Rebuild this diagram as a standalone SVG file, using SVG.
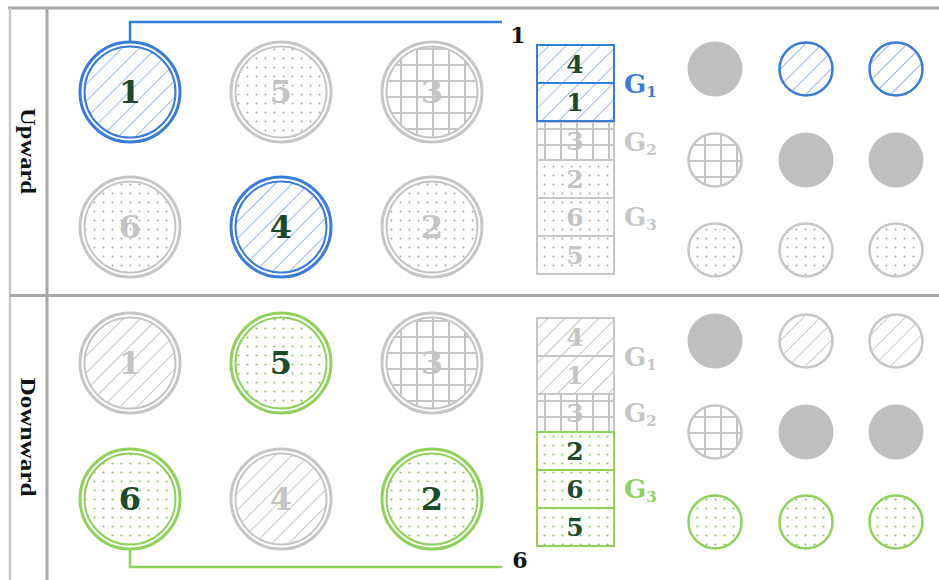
<svg xmlns="http://www.w3.org/2000/svg" width="939" height="580" viewBox="0 0 939 580">
<style>
.frame{stroke:#a8a8a8;stroke-width:3;fill:none}
.frameL{stroke:#c8c8c8;stroke-width:2.5;fill:none}
.rB{stroke:#3a7bd5}
.rG{stroke:#c6c6c6}
.rN{stroke:#8fd15c}
.nf{fill:none}
.o{stroke-width:3}
.i{stroke-width:2}
.s{stroke-width:2.5}
.bx{stroke-width:2}
.num{font-family:"DejaVu Serif","Liberation Serif",serif;font-weight:bold;text-anchor:middle}
.big{font-size:32px}
.sm{font-size:25px}
.lbl{font-size:22px}
.dk{fill:#1c4a2b}
.gy{fill:#c4c4c4}
.glab{font-family:"DejaVu Serif","Liberation Serif",serif;font-weight:bold;font-size:26px}
.sub{font-size:15px}
.side{font-family:"Liberation Serif","DejaVu Serif",serif;font-weight:bold;font-size:21px;fill:#111;text-anchor:middle}
.solid{fill:#bfbfbf}
</style>
<defs>
<pattern id="hB" width="12" height="12" patternUnits="userSpaceOnUse" patternTransform="rotate(45)"><line x1="0" y1="0" x2="0" y2="12" stroke="#8fb1e4" stroke-width="1.8"/></pattern>
<pattern id="hG" width="12" height="12" patternUnits="userSpaceOnUse" patternTransform="rotate(45)"><line x1="0" y1="0" x2="0" y2="12" stroke="#c2c2c2" stroke-width="1.8"/></pattern>
<pattern id="grid" width="16" height="16" patternUnits="userSpaceOnUse"><path d="M1 0V16M0 1H16" stroke="#c4c4c4" stroke-width="2" fill="none"/></pattern>
<pattern id="dG" width="9" height="9" patternUnits="userSpaceOnUse"><circle cx="4.5" cy="4.5" r="1" fill="#a8a8a8"/></pattern>
<pattern id="dN" width="9" height="9" patternUnits="userSpaceOnUse"><circle cx="4.5" cy="4.5" r="1.1" fill="#8cc463"/></pattern>
</defs>

<g id="frame">
<line class="frame" x1="8" y1="8" x2="939" y2="8"/>
<line class="frameL" x1="10" y1="8" x2="10" y2="580"/>
<line class="frame" x1="47" y1="8" x2="47" y2="580"/>
<line class="frame" x1="10" y1="295.5" x2="939" y2="295.5"/>
<text class="side" transform="translate(28,151) rotate(90)" y="7" textLength="86" lengthAdjust="spacingAndGlyphs">Upward</text>
<text class="side" transform="translate(28,437) rotate(90)" y="7" textLength="119" lengthAdjust="spacingAndGlyphs">Downward</text>
</g>

<g id="connectors">
<polyline points="130,41 130,22 502,22" fill="none" stroke="#2f7ed3" stroke-width="2.5"/>
<text class="num lbl" x="518" y="43" fill="#111">1</text>
<polyline points="130,550 130,567 502,567" fill="none" stroke="#8fd15c" stroke-width="2.5"/>
<text class="num lbl" x="520" y="568" fill="#111">6</text>
</g>

<!-- Upward big circles -->
<g id="up-c1"><circle cx="130" cy="92" r="45" fill="url(#hB)"/><circle class="rB o nf" cx="130" cy="92" r="50"/><circle class="rB i nf" cx="130" cy="92" r="45.5"/><text class="num big dk" x="130" y="103">1</text></g>
<g id="up-c5"><circle cx="281" cy="92" r="45" fill="url(#dG)"/><circle class="rG o nf" cx="281" cy="92" r="50"/><circle class="rG i nf" cx="281" cy="92" r="45.5"/><text class="num big gy" x="281" y="103">5</text></g>
<g id="up-c3"><circle cx="432" cy="92" r="45" fill="url(#grid)"/><circle class="rG o nf" cx="432" cy="92" r="50"/><circle class="rG i nf" cx="432" cy="92" r="45.5"/><text class="num big gy" x="432" y="103">3</text></g>
<g id="up-c6"><circle cx="130" cy="227" r="45" fill="url(#dG)"/><circle class="rG o nf" cx="130" cy="227" r="50"/><circle class="rG i nf" cx="130" cy="227" r="45.5"/><text class="num big gy" x="130" y="238">6</text></g>
<g id="up-c4"><circle cx="281" cy="227" r="45" fill="url(#hB)"/><circle class="rB o nf" cx="281" cy="227" r="50"/><circle class="rB i nf" cx="281" cy="227" r="45.5"/><text class="num big dk" x="281" y="238">4</text></g>
<g id="up-c2"><circle cx="432" cy="227" r="45" fill="url(#dG)"/><circle class="rG o nf" cx="432" cy="227" r="50"/><circle class="rG i nf" cx="432" cy="227" r="45.5"/><text class="num big gy" x="432" y="238">2</text></g>

<!-- Upward stack -->
<g id="up-stack">
<rect x="537" y="122" width="77" height="38" fill="url(#grid)" class="rG bx"/>
<rect x="537" y="160" width="77" height="38" fill="url(#dG)" class="rG bx"/>
<rect x="537" y="198" width="77" height="38" fill="url(#dG)" class="rG bx"/>
<rect x="537" y="236" width="77" height="38" fill="url(#dG)" class="rG bx"/>
<rect x="537" y="45" width="77" height="38" fill="url(#hB)" class="rB bx"/>
<rect x="537" y="83" width="77" height="38" fill="url(#hB)" class="rB bx"/>
<text class="num sm dk" x="575" y="73">4</text>
<text class="num sm dk" x="575" y="111">1</text>
<text class="num sm gy" x="575" y="150">3</text>
<text class="num sm gy" x="575" y="188">2</text>
<text class="num sm gy" x="575" y="226">6</text>
<text class="num sm gy" x="575" y="264">5</text>
</g>
<g id="up-labels">
<text class="glab" x="624" y="93" fill="#3a7bd5">G<tspan class="sub" dy="4">1</tspan></text>
<text class="glab" x="624" y="151" fill="#c6c6c6">G<tspan class="sub" dy="4">2</tspan></text>
<text class="glab" x="624" y="226" fill="#c6c6c6">G<tspan class="sub" dy="4">3</tspan></text>
</g>

<!-- Upward small circles -->
<g id="up-small">
<circle class="solid" cx="715" cy="69" r="27.5"/>
<circle cx="806" cy="69" r="26.5" fill="url(#hB)" class="rB s"/>
<circle cx="896" cy="69" r="26.5" fill="url(#hB)" class="rB s"/>
<circle cx="715" cy="160" r="26.5" fill="url(#grid)" class="rG s"/>
<circle class="solid" cx="806" cy="160" r="27.5"/>
<circle class="solid" cx="896" cy="160" r="27.5"/>
<circle cx="715" cy="250" r="26.5" fill="url(#dG)" class="rG s"/>
<circle cx="806" cy="250" r="26.5" fill="url(#dG)" class="rG s"/>
<circle cx="896" cy="250" r="26.5" fill="url(#dG)" class="rG s"/>
</g>

<!-- Downward big circles -->
<g id="dn-c1"><circle cx="130" cy="363" r="45" fill="url(#hG)"/><circle class="rG o nf" cx="130" cy="363" r="50"/><circle class="rG i nf" cx="130" cy="363" r="45.5"/><text class="num big gy" x="130" y="374">1</text></g>
<g id="dn-c5"><circle cx="281" cy="363" r="45" fill="url(#dN)"/><circle class="rN o nf" cx="281" cy="363" r="50"/><circle class="rN i nf" cx="281" cy="363" r="45.5"/><text class="num big dk" x="281" y="374">5</text></g>
<g id="dn-c3"><circle cx="432" cy="363" r="45" fill="url(#grid)"/><circle class="rG o nf" cx="432" cy="363" r="50"/><circle class="rG i nf" cx="432" cy="363" r="45.5"/><text class="num big gy" x="432" y="374">3</text></g>
<g id="dn-c6"><circle cx="130" cy="499" r="45" fill="url(#dN)"/><circle class="rN o nf" cx="130" cy="499" r="50"/><circle class="rN i nf" cx="130" cy="499" r="45.5"/><text class="num big dk" x="130" y="510">6</text></g>
<g id="dn-c4"><circle cx="281" cy="499" r="45" fill="url(#hG)"/><circle class="rG o nf" cx="281" cy="499" r="50"/><circle class="rG i nf" cx="281" cy="499" r="45.5"/><text class="num big gy" x="281" y="510">4</text></g>
<g id="dn-c2"><circle cx="432" cy="499" r="45" fill="url(#dN)"/><circle class="rN o nf" cx="432" cy="499" r="50"/><circle class="rN i nf" cx="432" cy="499" r="45.5"/><text class="num big dk" x="432" y="510">2</text></g>

<!-- Downward stack -->
<g id="dn-stack">
<rect x="537" y="318" width="77" height="38" fill="url(#hG)" class="rG bx"/>
<rect x="537" y="356" width="77" height="38" fill="url(#hG)" class="rG bx"/>
<rect x="537" y="394" width="77" height="38" fill="url(#grid)" class="rG bx"/>
<rect x="537" y="432" width="77" height="38" fill="url(#dN)" class="rN bx"/>
<rect x="537" y="470" width="77" height="38" fill="url(#dN)" class="rN bx"/>
<rect x="537" y="508" width="77" height="38" fill="url(#dN)" class="rN bx"/>
<text class="num sm gy" x="575" y="346">4</text>
<text class="num sm gy" x="575" y="384">1</text>
<text class="num sm gy" x="575" y="422">3</text>
<text class="num sm dk" x="575" y="460">2</text>
<text class="num sm dk" x="575" y="498">6</text>
<text class="num sm dk" x="575" y="536">5</text>
</g>
<g id="dn-labels">
<text class="glab" x="624" y="366" fill="#c6c6c6">G<tspan class="sub" dy="4">1</tspan></text>
<text class="glab" x="624" y="422" fill="#c6c6c6">G<tspan class="sub" dy="4">2</tspan></text>
<text class="glab" x="624" y="498" fill="#8fd15c">G<tspan class="sub" dy="4">3</tspan></text>
</g>

<!-- Downward small circles -->
<g id="dn-small">
<circle class="solid" cx="715" cy="341" r="27.5"/>
<circle cx="806" cy="341" r="26.5" fill="url(#hG)" class="rG s"/>
<circle cx="896" cy="341" r="26.5" fill="url(#hG)" class="rG s"/>
<circle cx="715" cy="432" r="26.5" fill="url(#grid)" class="rG s"/>
<circle class="solid" cx="806" cy="432" r="27.5"/>
<circle class="solid" cx="896" cy="432" r="27.5"/>
<circle cx="715" cy="522" r="26.5" fill="url(#dN)" class="rN s"/>
<circle cx="806" cy="522" r="26.5" fill="url(#dN)" class="rN s"/>
<circle cx="896" cy="522" r="26.5" fill="url(#dN)" class="rN s"/>
</g>
</svg>
